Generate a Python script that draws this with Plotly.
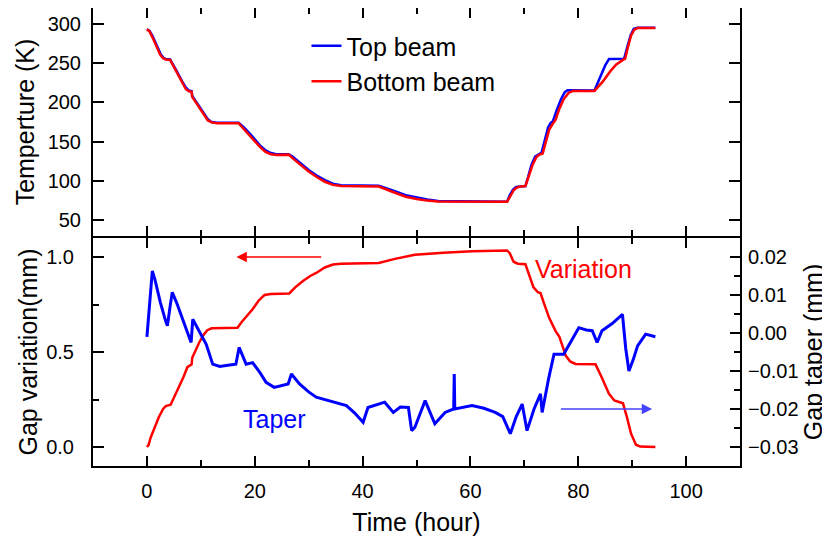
import plotly.graph_objects as go
from plotly.subplots import make_subplots

# ---------------- data ----------------
# Top panel: temperature of the beams (K) vs time (hour)
bottom_beam_time = [0, 0.5, 1, 1.5, 2, 2.5, 3, 3.5, 4.3, 4.6, 5.5, 6.5, 7.2, 7.8, 8.3, 8.4,
                    9.5, 10.5, 11.3, 12, 13, 17, 18, 19.5, 21, 22, 23, 24, 26.3, 27, 28.5,
                    30, 31.5, 33, 34.5, 36, 43, 44, 46, 48, 50, 52, 54, 66.8,
                    67.5, 68, 68.6, 69.3, 70.2, 70.8, 71.5, 72.2, 72.8, 73.4, 74, 74.6,
                    75.2, 75.8, 76.5, 77.3, 78.2, 79, 83, 84.5, 86, 87, 88.3, 88.7, 89.2,
                    89.8, 90.4, 91, 94.3]
bottom_beam_temp = [293, 290, 283, 275, 267, 260, 256, 254.5, 254, 250, 238, 225, 217, 214, 213.5, 207,
                    195, 184, 177, 174.5, 173.5, 173.5, 166, 155, 143, 137, 134, 133, 133.5, 129, 120,
                    112, 105, 99, 95, 93.5, 93, 90, 85, 80, 77, 75, 74, 73.5,
                    82, 88, 91.5, 93, 93.5, 105, 120, 130, 133.5, 135, 150, 165,
                    172, 178, 192, 204, 212, 214.5, 214.5, 226, 240, 248, 254, 255.5, 270,
                    285, 292.5, 294.5, 294.5]
top_beam_time = [0, 0.5, 1, 1.5, 2, 2.5, 3, 3.5, 4.3, 4.6, 5.5, 6.5, 7.2, 7.8, 8.3, 8.4,
                 9.5, 10.5, 11.3, 12, 13, 17, 18, 19.5, 21, 22, 23, 24, 26.3, 27, 28.5,
                 30, 31.5, 33, 34.5, 36, 43, 44, 46, 48, 50, 52, 54, 66.8,
                 67.3, 67.9, 68.5, 70.2, 70.7, 71.3, 72, 72.7, 73.2, 73.8, 74.4, 74.9,
                 75.3, 76, 76.8, 77.5, 78, 83, 84, 85, 85.7, 88.5, 89, 89.7, 90.3, 91, 94.3]
top_beam_temp = [293, 291, 285, 277, 269, 262, 257, 255, 254.5, 251, 240, 227, 219, 215, 214, 208,
                 197, 186, 178.5, 175, 174, 174, 168, 157, 145, 139, 135.5, 134, 134, 131, 122,
                 114, 107, 101, 96.5, 94.5, 94, 92, 87, 82, 79, 76.5, 74.5, 73.5,
                 82, 89, 92.5, 93.5, 105, 120, 131, 134.5, 136, 152, 168, 174,
                 176, 190, 204, 213, 215.5, 215, 230, 247, 255, 255.5, 268, 285, 293.5, 295, 295]

# Bottom panel: gap variation (mm, left axis) and gap taper (mm, right axis)
variation_time = [0, 0.3, 0.7, 1.5, 2.2, 3.0, 3.5, 4.4, 5.2, 6.0, 6.8, 7.5, 8.3, 8.4, 9.0, 9.7,
                  10.5, 11.2, 12.0, 16.8, 17.5, 18.5, 19.6, 20.7, 21.8, 23.0, 26.4, 27.5, 29.0,
                  30.3, 31.4, 33.0, 34.5, 36.0, 43.0, 46.0, 49.7, 55.0, 60.3, 66.8, 67.3, 68.0,
                  68.8, 70.2, 70.8, 71.7, 72.5, 73.0, 73.6, 74.6, 75.8, 76.5, 77.7, 78.5, 79.5,
                  83.2, 84.3, 85.7, 86.7, 87.6, 88.3, 89.0, 89.8, 90.7, 91.5, 94.3]
variation_mm = [0.0, 0.01, 0.05, 0.11, 0.157, 0.2, 0.215, 0.222, 0.27, 0.314, 0.37, 0.42, 0.435, 0.47, 0.51, 0.55,
                0.59, 0.615, 0.625, 0.628, 0.655, 0.69, 0.725, 0.77, 0.80, 0.805, 0.808, 0.84, 0.875,
                0.9, 0.916, 0.945, 0.96, 0.965, 0.968, 0.99, 1.012, 1.022, 1.03, 1.034, 1.02, 0.975,
                0.965, 0.962, 0.91, 0.84, 0.815, 0.81, 0.76, 0.68, 0.61, 0.58, 0.48, 0.45, 0.437,
                0.435, 0.37, 0.28, 0.245, 0.235, 0.23, 0.16, 0.07, 0.012, 0.002, 0.0]
taper_time = [0, 0.3, 0.6, 1.0, 1.5, 2.5, 3.5, 3.8, 4.3, 4.7, 5.5, 6.5, 7.5, 8.2, 8.5, 9.5, 11,
              12.2, 13.5, 15, 16.5, 17.1, 18.4, 19.6, 21, 22.1, 23.6, 26.2, 26.8, 28.3, 30, 31.4,
              33, 34.5, 37, 38.5, 40.1, 41, 42.5, 44.1, 45.7, 47, 48.5, 49.1, 49.7, 51.6, 53.4,
              55.3, 56.9, 57.0, 57.1, 60.3, 62.5, 64.6, 66, 67.4, 68.5, 69.6, 70.5, 71.8, 73.0,
              73.3, 74.5, 75.5, 77.3, 78.8, 80.1, 81.5, 82.6, 83.5, 84.4, 86.3, 88.2, 88.8,
              89.4, 90.2, 91, 92.5, 94.3]
taper_mm = [-0.001, 0.004, 0.011, 0.0163, 0.014, 0.008, 0.003, 0.0019, 0.007, 0.0107, 0.008, 0.004,
            0.000, -0.0025, 0.0036, 0.001, -0.003, -0.0082, -0.0088, -0.0085, -0.0082, -0.0038,
            -0.0082, -0.0078, -0.0105, -0.013, -0.0143, -0.0134, -0.0108, -0.0134, -0.0155,
            -0.0169, -0.0175, -0.0182, -0.0191, -0.021, -0.0235, -0.0196, -0.019, -0.0182,
            -0.0209, -0.0195, -0.0196, -0.0257, -0.0248, -0.0178, -0.0239, -0.0209, -0.0200,
            -0.0108, -0.0200, -0.0191, -0.0198, -0.0209, -0.022, -0.0265, -0.022, -0.0187,
            -0.0257, -0.02, -0.016, -0.0209, -0.012, -0.0056, -0.0056, -0.002, 0.0014, 0.0008,
            0.0006, -0.0025, 0.0006, 0.0025, 0.0049, -0.004, -0.01, -0.007, -0.0034, -0.0003,
            -0.001]

# axis tick values
temp_ticks = [50, 100, 150, 200, 250, 300]
variation_ticks = [0.0, 0.5, 1.0]
variation_labels = ["0.0", "0.5", "1.0"]
taper_ticks = [-0.03, -0.02, -0.01, 0.00, 0.01, 0.02]
taper_labels = ["\u22120.03", "\u22120.02", "\u22120.01", "0.00", "0.01", "0.02"]
time_ticks = [0, 20, 40, 60, 80, 100]

# ---------------- figure ----------------
FONT = "Liberation Sans, Arial, Helvetica, sans-serif"
BLUE = "#0000ff"
RED = "#ff0000"

fig = make_subplots(rows=2, cols=1, shared_xaxes=True, vertical_spacing=0,
                    specs=[[{}], [{"secondary_y": True}]])

fig.add_trace(go.Scatter(x=top_beam_time, y=top_beam_temp, mode="lines", name="Top beam",
                         line=dict(color=BLUE, width=2.5)), row=1, col=1)
fig.add_trace(go.Scatter(x=bottom_beam_time, y=bottom_beam_temp, mode="lines", name="Bottom beam",
                         line=dict(color=RED, width=2.5)), row=1, col=1)
fig.add_trace(go.Scatter(x=taper_time, y=taper_mm, mode="lines", name="Taper", showlegend=False,
                         line=dict(color=BLUE, width=3)), row=2, col=1, secondary_y=True)
fig.add_trace(go.Scatter(x=variation_time, y=variation_mm, mode="lines", name="Variation",
                         showlegend=False, line=dict(color=RED, width=2.5)), row=2, col=1, secondary_y=False)

axis_common = dict(showline=True, linecolor="black", linewidth=2, ticks="inside",
                   tickcolor="black", tickwidth=2, showgrid=False, zeroline=False,
                   automargin=False,
                   tickfont=dict(family=FONT, size=20, color="black"))

fig.update_xaxes(**axis_common)
fig.update_yaxes(**axis_common)

PLOT_H = 458          # plot-area height in px (figure height minus margins)
HALF_GAP = 1 / PLOT_H  # lets the shared divider lines of both panels overlap

# x axes (full width; make_subplots shrinks it for the secondary axis otherwise)
fig.update_xaxes(range=[-10, 110], tickvals=time_ticks, ticklen=10, mirror="ticks", domain=[0, 1],
                 minor=dict(dtick=10, tick0=0, ticklen=6, ticks="inside", tickwidth=2, tickcolor="black"))
fig.update_xaxes(showticklabels=False, row=1, col=1)
fig.update_xaxes(title=dict(text="Time (hour)", font=dict(family=FONT, size=25, color="black"), standoff=12),
                 ticklabelstandoff=6, row=2, col=1)

# top y axis
fig.update_yaxes(range=[30, 320], tickvals=temp_ticks, ticklen=11, mirror="ticks",
                 ticklabelstandoff=6, domain=[0.5 + HALF_GAP, 1],
                 title=dict(text="Temperture (K)", font=dict(family=FONT, size=25, color="black"), standoff=6),
                 row=1, col=1)
# bottom left y axis
fig.update_yaxes(range=[-0.1, 1.1], tickvals=variation_ticks, ticktext=variation_labels, ticklen=11,
                 ticklabelstandoff=13, domain=[0, 0.5 - HALF_GAP],
                 minor=dict(dtick=0.25, tick0=0, ticklen=6, ticks="inside", tickwidth=2, tickcolor="black"),
                 title=dict(text="Gap variation(mm)", font=dict(family=FONT, size=25, color="black"), standoff=1),
                 row=2, col=1, secondary_y=False)
# bottom right y axis
fig.update_yaxes(range=[-0.035, 0.025], tickvals=taper_ticks, ticktext=taper_labels, ticklen=10,
                 ticklabelstandoff=2,
                 minor=dict(dtick=0.005, tick0=0, ticklen=6, ticks="inside", tickwidth=2, tickcolor="black"),
                 title=dict(text="Gap taper (mm)", font=dict(family=FONT, size=25, color="black"), standoff=6),
                 row=2, col=1, secondary_y=True)

# arrows and in-plot labels
fig.add_annotation(x=16.6, y=1.0, ax=32.6, ay=1.0, xref="x2", yref="y2", axref="x2", ayref="y2",
                   text="", showarrow=True, arrowhead=2, arrowsize=1.3, arrowwidth=1.6, arrowcolor=RED)
fig.add_annotation(x=93.7, y=-0.02, ax=76.5, ay=-0.02, xref="x2", yref="y3", axref="x2", ayref="y3",
                   text="", showarrow=True, arrowhead=2, arrowsize=1.3, arrowwidth=1.6, arrowcolor="#4444ff")
fig.add_annotation(x=81, y=0.936, xref="x2", yref="y2", text="Variation", showarrow=False,
                   font=dict(family=FONT, size=25, color=RED))
fig.add_annotation(x=23.6, y=0.15, xref="x2", yref="y2", text="Taper", showarrow=False,
                   font=dict(family=FONT, size=25, color=BLUE))

# the page adds an 8 px body margin, so the figure is sized/offset to compensate
fig.update_layout(
    width=822, height=529,
    margin=dict(l=85, r=90, t=0, b=71),
    paper_bgcolor="white", plot_bgcolor="white",
    font=dict(family=FONT, color="black"),
    legend=dict(x=0.33, y=0.967, xanchor="left", yanchor="top", bgcolor="rgba(0,0,0,0)",
                font=dict(family=FONT, size=25, color="black"), tracegroupgap=0),
)

fig.write_html("out.html")
